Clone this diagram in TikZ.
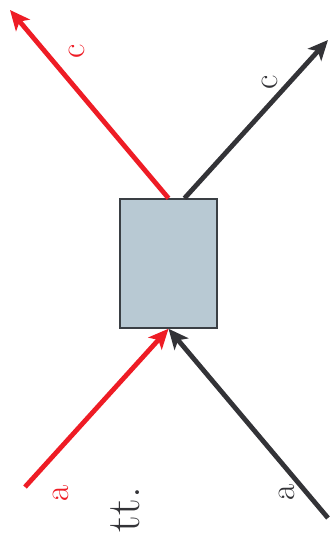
\documentclass[tikz,border=0pt]{standalone}
\usetikzlibrary{arrows.meta}
\definecolor{redc}{HTML}{EE1C25}
\definecolor{darkc}{HTML}{333337}
\definecolor{boxfill}{HTML}{B8C9D3}
\definecolor{boxline}{HTML}{3A3F44}
\begin{document}
\begin{tikzpicture}[x=1pt,y=-1pt,
  flow/.style={line width=4.8pt,-{Stealth[length=20pt,width=18pt,inset=5pt]}},
  lbl/.style={rotate=90,font=\fontsize{35}{40}\selectfont,inner sep=0pt},
  proc/.style={draw=boxline,fill=boxfill,line width=1.5pt,minimum width=97pt,minimum height=129pt,inner sep=0pt}]
\useasboundingbox (0,0) rectangle (334,539);
\node[proc] (box) at (168.5,263.5) {};
\coordinate (ra) at (25,487);
\coordinate (da) at (328,518);
\coordinate (rc) at (10,10);
\coordinate (dc) at (328,40);
\coordinate (dstart) at ([xshift=16pt]box.north);
\draw[flow,redc] (ra) -- (box.south);
\draw[flow,darkc] (da) -- (box.south);
\draw[flow,redc] (box.north) -- (rc);
\draw[flow,darkc] (dstart) -- (dc);
\node[lbl,text=redc] (lrc) at (77,51) {c};
\node[lbl,text=darkc] (ldc) at (270,82) {c};
\node[lbl,text=redc] (lra) at (61,493) {a};
\node[lbl,text=darkc] (lda) at (287,492) {a};
\node[rotate=90,anchor=base east,inner sep=0pt,text=darkc,font=\fontsize{47}{52}\selectfont] (tt) at (139,487) {tt.};
\end{tikzpicture}
\end{document}
